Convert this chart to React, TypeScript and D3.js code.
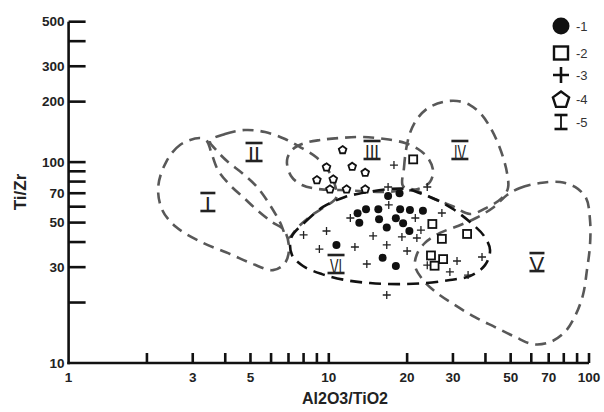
import React from "react";
import * as d3 from "d3";

type P = [number, number];

// ---- data (Al2O3/TiO2, Ti/Zr) ----
const circlePts: P[] = [[16.9,67.8],[18.7,69.9],[12.9,55.6],[13.9,58.2],[15.5,58.2],[18.8,58.2],[20.5,57.8],[23.0,57.3],[13.1,49.9],[15.6,51.9],[18.1,52.5],[19.3,49.6],[16.7,47.2],[20.4,45.4],[10.7,38.7],[16.1,33.4],[18.1,30.4]];
const squarePts: P[] = [[21.1,103.2],[25.0,49.2],[27.2,41.5],[34.0,43.9],[24.7,34.3],[27.5,32.9],[25.5,30.5]];
const crossPts: P[] = [[17.8,96.7],[16.9,75.2],[23.9,75.2],[17.0,61.2],[12.1,52.7],[21.5,52.7],[27.2,55.8],[9.8,45.4],[8.0,43.4],[14.8,42.9],[19.1,42.4],[21.8,41.9],[22.6,45.9],[9.2,36.9],[12.6,37.8],[16.7,38.7],[20.0,36.1],[14.0,31.1],[23.9,30.7],[31.1,32.2],[29.2,28.4],[16.7,21.8],[38.8,33.7],[34.3,27.4]];
const pentagonPts: P[] = [[11.3,114.9],[9.8,94.2],[12.3,94.9],[13.8,88.6],[9.0,81.4],[10.4,82.1],[10.1,73.2],[11.7,73.2],[13.8,73.2]];

// ---- field boundaries ----
const fieldI: P[] = [[3.20,131.8],[2.68,121.7],[2.37,100.1],[2.21,75.2],[2.29,57.8],[2.59,47.5],[3.29,39.6],[4.17,34.9],[5.11,31.1],[6.10,29.0],[6.79,31.5],[7.03,37.4],[6.73,45.9],[6.05,50.3],[5.35,57.1],[4.72,66.3],[4.17,76.9],[3.75,91.3],[3.53,112.3],[3.40,127.4]];
const fieldII: P[] = [[3.49,127.4],[3.99,138.0],[4.76,144.5],[5.69,141.2],[6.79,130.3],[7.75,118.9],[8.93,106.0],[9.93,91.3],[10.56,76.9],[10.66,66.3],[9.76,60.5],[8.62,54.5],[7.61,47.5],[6.97,41.9],[6.49,50.3],[5.94,61.2],[5.30,75.2],[4.64,88.3],[4.10,100.1],[3.69,114.9]];
const fieldIII: P[] = [[6.91,102.4],[7.29,116.2],[8.10,124.5],[9.25,128.8],[11.04,131.8],[13.42,133.3],[16.44,130.3],[19.63,124.5],[22.02,116.2],[24.06,104.8],[25.15,91.3],[24.48,79.6],[22.02,73.5],[18.77,71.8],[15.73,71.0],[13.18,71.8],[11.04,72.6],[9.09,73.5],[7.89,76.9],[7.16,85.3]];
const fieldIV: P[] = [[19.28,76.0],[19.45,93.5],[19.80,114.9],[20.51,139.6],[21.83,163.9],[24.06,185.9],[27.47,199.2],[31.10,201.5],[34.89,192.4],[38.46,173.5],[41.65,149.5],[44.31,127.4],[46.72,106.0],[48.41,88.3],[48.83,74.3],[46.31,66.3],[40.92,59.8],[34.89,55.2],[29.75,60.5],[24.92,66.3],[21.45,72.6]];
const fieldV: P[] = [[48.41,68.6],[54.30,74.3],[64.81,78.7],[77.37,79.6],[88.35,75.2],[97.4,66.3],[100.9,51.5],[100.9,38.7],[98.2,29.0],[94.8,21.8],[88.35,17.1],[80.88,14.3],[70.8,12.7],[60.93,12.4],[51.94,13.5],[43.54,15.1],[36.47,16.9],[30.58,19.4],[26.06,22.3],[23.01,25.9],[21.45,30.4],[21.83,34.9],[23.42,39.6],[26.76,44.4],[31.37,48.1],[36.79,52.7],[43.15,59.8]];
const fieldVI: P[] = [[7.16,41.9],[8.10,50.3],[9.50,59.8],[11.54,67.0],[14.15,71.0],[17.19,73.5],[19.98,73.5],[22.81,69.4],[26.06,64.8],[30.01,58.4],[34.89,50.3],[39.50,42.9],[41.65,36.5],[39.84,30.7],[34.89,27.1],[29.23,25.9],[23.42,25.0],[18.45,24.7],[14.40,25.0],[11.54,25.9],[9.42,27.7],[7.96,30.4],[7.22,34.5]];

const fieldNames = ["I", "II", "III", "IV", "V", "VI"];
const fieldLabelX = [3.43, 5.16, 14.66, 31.9, 63.1, 10.66];
const fieldLabelY = [63.3, 112.3, 114.9, 114.9, 31.8, 31.1];

const xTicks = [2, 3, 4, 5, 6, 7, 8, 9, 10, 20, 30, 40, 50, 60, 70, 80, 90, 100];
const xTickLabels = [1, 3, 5, 10, 20, 30, 50, 70, 100];
const yTicks = [20, 30, 40, 50, 60, 70, 80, 90, 100, 200, 300, 400, 500];
const yTickLabels = [10, 30, 50, 70, 100, 200, 300, 500];
const legendLabels = ["-1", "-2", "-3", "-4", "-5"];

const W = 604, H = 412;
const x = d3.scaleLog().domain([1, 100]).range([68.6, 589]);
const y = d3.scaleLog().domain([10, 500]).range([363, 21.7]);

const FONT = "'Liberation Sans', Arial, sans-serif";

function pentagonPath(cx: number, cy: number, r: number) {
  const pts = d3.range(5).map((k) => {
    const a = -Math.PI / 2 + (k * 2 * Math.PI) / 5;
    return [cx + r * Math.cos(a), cy + r * Math.sin(a)] as [number, number];
  });
  return "M" + pts.map((p) => p.join(",")).join("L") + "Z";
}

function IBar({ cx, cy, w, h, sw }: { cx: number; cy: number; w: number; h: number; sw: number }) {
  return (
    <g stroke="#111" strokeWidth={sw}>
      <line x1={cx - w / 2} x2={cx + w / 2} y1={cy - h / 2} y2={cy - h / 2} />
      <line x1={cx - w / 2} x2={cx + w / 2} y1={cy + h / 2} y2={cy + h / 2} />
      <line x1={cx} x2={cx} y1={cy - h / 2} y2={cy + h / 2} strokeWidth={sw * 0.7} />
    </g>
  );
}

function Roman({ label, cx, cy }: { label: string; cx: number; cy: number }) {
  const h = 18;
  const bw = label.length === 1 ? 15 : 17;
  const tl = label.length === 1 ? undefined : label.length === 2 ? 12 : 14;
  return (
    <g>
      <text
        x={cx}
        y={cy + h / 2 + 1}
        textAnchor="middle"
        fontFamily={FONT}
        fontSize={22}
        fill="#222"
        textLength={tl}
        lengthAdjust={tl ? "spacingAndGlyphs" : undefined}
      >
        {label}
      </text>
      <line x1={cx - bw / 2} x2={cx + bw / 2} y1={cy - h / 2} y2={cy - h / 2} stroke="#222" strokeWidth={2.6} />
      <line x1={cx - bw / 2} x2={cx + bw / 2} y1={cy + h / 2} y2={cy + h / 2} stroke="#222" strokeWidth={2.6} />
    </g>
  );
}

export default function App() {
  const line = d3
    .line<P>()
    .x((d) => x(d[0]))
    .y((d) => y(d[1]))
    .curve(d3.curveCatmullRomClosed.alpha(0.5));

  const grayFields = [fieldI, fieldII, fieldIII, fieldIV, fieldV];

  const legendY = [26, 53, 75, 99, 122];
  const legendX = 561;

  return (
    <svg width={W} height={H} style={{ position: "absolute", left: 0, top: 0, background: "#fff" }}>
      {/* fields */}
      {grayFields.map((f, i) => (
        <path key={i} d={line(f) || ""} fill="none" stroke="#585858" strokeWidth={2.6} strokeDasharray="11,7" />
      ))}
      <path d={line(fieldVI) || ""} fill="none" stroke="#111" strokeWidth={2.6} strokeDasharray="12,7" />

      {/* field labels */}
      {fieldNames.map((n, i) => (
        <Roman key={n} label={n} cx={x(fieldLabelX[i])} cy={y(fieldLabelY[i])} />
      ))}

      {/* data points */}
      {crossPts.map((d, i) => (
        <path
          key={"c" + i}
          d={`M${x(d[0]) - 4},${y(d[1])}H${x(d[0]) + 4}M${x(d[0])},${y(d[1]) - 4}V${y(d[1]) + 4}`}
          stroke="#222"
          strokeWidth={1.3}
          fill="none"
        />
      ))}
      {squarePts.map((d, i) => (
        <rect key={"s" + i} x={x(d[0]) - 4} y={y(d[1]) - 4} width={8} height={8} fill="#fff" stroke="#111" strokeWidth={1.8} />
      ))}
      {pentagonPts.map((d, i) => (
        <path key={"p" + i} d={pentagonPath(x(d[0]), y(d[1]), 4)} fill="#fff" stroke="#111" strokeWidth={1.8} />
      ))}
      {circlePts.map((d, i) => (
        <circle key={"o" + i} cx={x(d[0])} cy={y(d[1])} r={4} fill="#111" />
      ))}

      {/* axes */}
      <g stroke="#111" strokeWidth={2.6} fill="none">
        <line x1={x(1)} x2={x(1)} y1={y(500)} y2={y(10) + 1.3} />
        <line x1={x(1) - 1.3} x2={x(100)} y1={y(10)} y2={y(10)} />
        {yTicks.map((t) => (
          <line key={"yt" + t} x1={x(1)} x2={x(1) + 17} y1={y(t)} y2={y(t)} />
        ))}
        {xTicks.map((t) => (
          <line key={"xt" + t} x1={x(t)} x2={x(t)} y1={y(10)} y2={y(10) - 10} />
        ))}
      </g>
      <g fontFamily={FONT} fontWeight="bold" fontSize={13.5} fill="#222">
        {yTickLabels.map((t) => (
          <text key={"yl" + t} x={x(1) - 4} y={y(t)} dy="0.35em" textAnchor="end">
            {t}
          </text>
        ))}
        {xTickLabels.map((t) => (
          <text key={"xl" + t} x={x(t)} y={y(10) + 19} textAnchor="middle">
            {t}
          </text>
        ))}
      </g>
      <text x={345} y={404} textAnchor="middle" fontFamily={FONT} fontWeight="bold" fontSize={16} fill="#222">
        Al2O3/TiO2
      </text>
      <text
        transform="translate(26,192) rotate(-90)"
        textAnchor="middle"
        fontFamily={FONT}
        fontWeight="bold"
        fontSize={17}
        fill="#222"
      >
        Ti/Zr
      </text>

      {/* legend */}
      <circle cx={legendX} cy={legendY[0]} r={8.5} fill="#111" />
      <rect x={legendX - 7} y={legendY[1] - 6.5} width={14} height={13} fill="#fff" stroke="#111" strokeWidth={2.4} />
      <path
        d={`M${legendX - 8},${legendY[2]}H${legendX + 8}M${legendX},${legendY[2] - 8}V${legendY[2] + 8}`}
        stroke="#111"
        strokeWidth={2.6}
      />
      <path d={pentagonPath(legendX, legendY[3] + 1, 8.5)} fill="#fff" stroke="#111" strokeWidth={2.4} />
      <IBar cx={legendX} cy={legendY[4]} w={13} h={14} sw={2.6} />
      {legendLabels.map((l, i) => (
        <text key={l} x={576} y={legendY[i]} dy="0.35em" fontFamily={FONT} fontSize={13} fill="#333">
          {l}
        </text>
      ))}
    </svg>
  );
}
